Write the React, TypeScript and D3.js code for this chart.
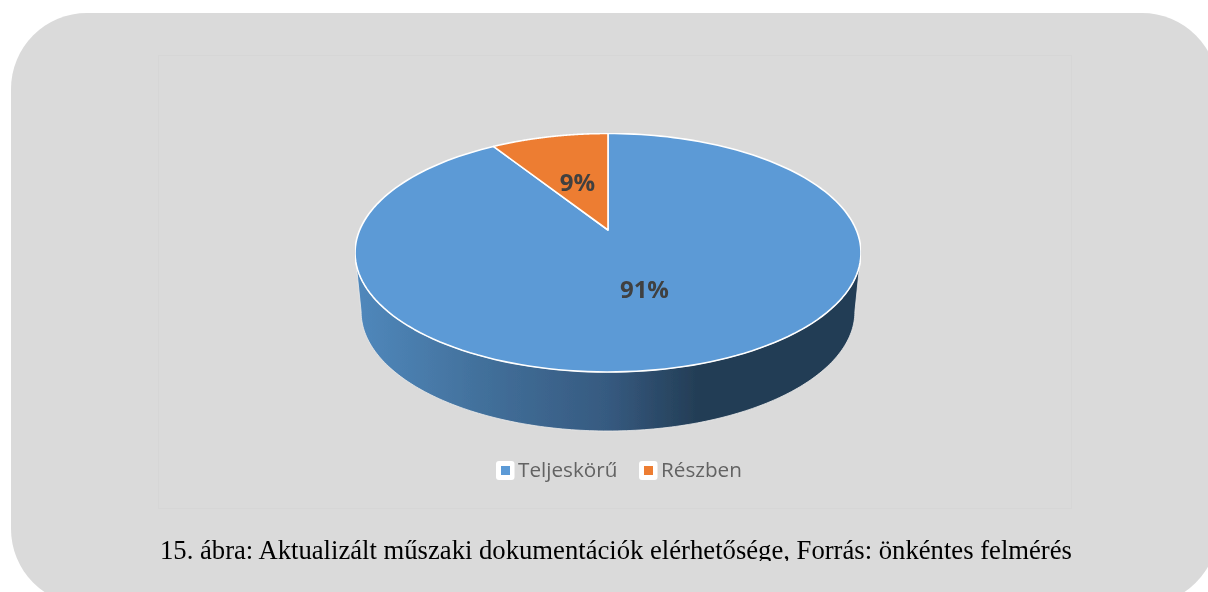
import React from "react";
import * as d3 from "d3";

const categories = ["Teljeskörű", "Részben"];
const shares = [91, 9];
const sliceColors = ["#5b9ad6", "#ed7d31"];
const caption = "15. ábra: Aktualizált műszaki dokumentációk elérhetősége, Forrás: önkéntes felmérés";

const W = 1208;
const H = 592;
const cx = 608;
const apexY = 230;
const a = 248.3;
const b = 114.9;
const k = 0.1908;
const depth = 59;
const lowerScale = 0.976;

// Perspective projection of the unit disc; angle is clockwise from the top.
const project = (r: number, angle: number, scale = 1, dy = 0): [number, number] => {
  const x = r * Math.sin(angle);
  const z = r * Math.cos(angle);
  const w = 1 + k * z;
  return [cx + (scale * a * x) / w, apexY + dy - (b * z) / w];
};

const pieGen = d3.pie<number>().sort(null).startAngle(0).endAngle(2 * Math.PI);
const line = d3.line<[number, number]>().curve(d3.curveLinear);

const rim = (from: number, to: number, scale = 1, dy = 0): [number, number][] =>
  d3.range(0, 181).map((i) => project(1, from + ((to - from) * i) / 180, scale, dy));

const slicePath = (s: number, e: number) =>
  (line([[cx, apexY], ...rim(s, e)]) as string) + "Z";

const sideStart = Math.PI / 2 + Math.asin(k);
const sideEnd = (3 * Math.PI) / 2 - Math.asin(k);
const wallPath =
  (line([...rim(sideStart, sideEnd), ...rim(sideEnd, sideStart, lowerScale, depth)]) as string) + "Z";

const legendX = [496, 639];

export default function App() {
  const arcs = pieGen(shares);
  return (
    <svg
      width={W}
      height={H}
      viewBox={`0 0 ${W} ${H}`}
      style={{ position: "absolute", left: 0, top: 0, display: "block" }}
    >
      <defs>
        <linearGradient id="wall" gradientUnits="userSpaceOnUse" x1={355} x2={861} y1={0} y2={0}>
          <stop offset="0" stopColor="#5088bc" />
          <stop offset="0.25" stopColor="#42709b" />
          <stop offset="0.5" stopColor="#365a80" />
          <stop offset="0.68" stopColor="#233d55" />
          <stop offset="1" stopColor="#233d55" />
        </linearGradient>
        <clipPath id="captionClip">
          <rect x={0} y={530} width={W} height={31} />
        </clipPath>
        <filter id="soft" x="0" y="0" width="100%" height="100%" filterUnits="objectBoundingBox">
          <feGaussianBlur stdDeviation="0.4" />
        </filter>
      </defs>
      <rect width={W} height={H} fill="#ffffff" />
      <rect x={11} y={13} width={1207} height={592} rx={76} ry={76} fill="#dadada" />
      <rect x={158.5} y={55.5} width={913} height={453} fill="none" stroke="#d6d6d6" strokeWidth={1} />

      <g filter="url(#soft)">
        <path d={wallPath} fill="url(#wall)" stroke="#ececec" strokeWidth={0.8} />
        {arcs.map((d, i) => (
          <path
            key={categories[i]}
            d={slicePath(d.startAngle, d.endAngle)}
            fill={sliceColors[i]}
            stroke="#ffffff"
            strokeWidth={1.6}
            strokeLinejoin="round"
          />
        ))}
        {arcs.map((d, i) => {
          const [x, y] = project(0.48, (d.startAngle + d.endAngle) / 2);
          return (
            <text
              key={categories[i]}
              x={x}
              y={y}
              dy="0.42em"
              textAnchor="middle"
              fontFamily="'Open Sans', sans-serif"
              fontWeight={700}
              fontSize={24}
              fill="#404040"
            >
              {shares[i]}%
            </text>
          );
        })}

        {categories.map((c, i) => (
          <g key={c}>
            <rect x={legendX[i]} y={461} width={18.5} height={19} rx={3} fill="#ffffff" />
            <rect x={legendX[i] + 5} y={466} width={9} height={9} fill={sliceColors[i]} />
            <text
              x={legendX[i] + 22}
              y={477}
              fontFamily="'Open Sans', sans-serif"
              fontSize={20.7}
              fill="#636363"
            >
              {c}
            </text>
          </g>
        ))}
      </g>

      <g clipPath="url(#captionClip)">
        <g filter="url(#soft)">
          <text x={160} y={559} fontFamily="'Liberation Serif', serif" fontSize={26.67} fill="#000000">
            {caption}
          </text>
        </g>
      </g>
    </svg>
  );
}
